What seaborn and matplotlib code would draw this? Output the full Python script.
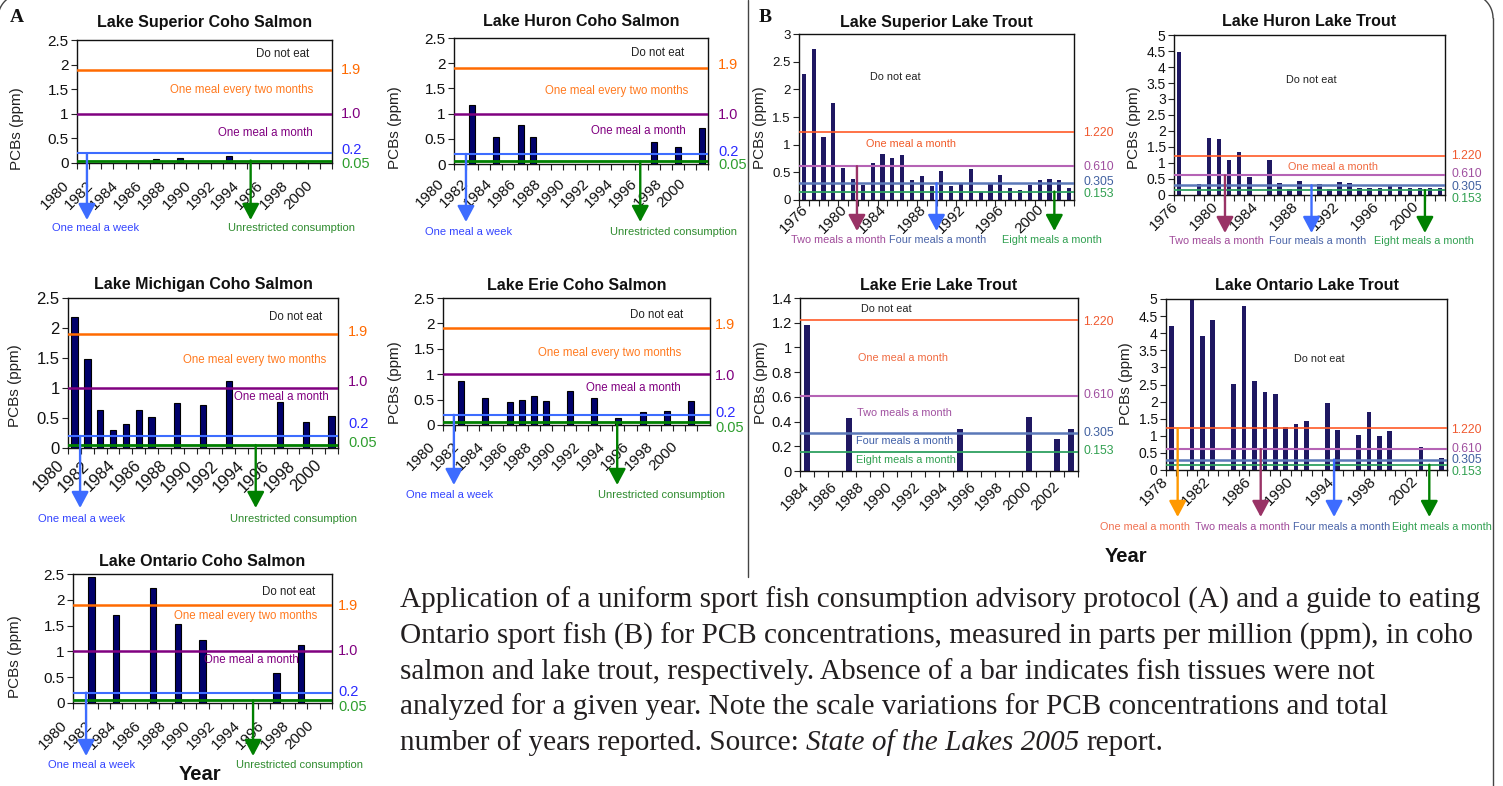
import matplotlib
matplotlib.use("Agg")
import matplotlib.pyplot as plt
import matplotlib.transforms as mtransforms
from matplotlib.lines import Line2D
import numpy as np
import pandas as pd
import seaborn as sns

# ---------------- data ----------------
coho_years = list(range(1980, 2001))
coho_label_years = list(range(1980, 2001, 2))
coho_limits = [1.9, 1.0, 0.2, 0.05]
coho_limit_labels = ["1.9", "1.0", "0.2", "0.05"]
coho_zones = ["Do not eat", "One meal every two months", "One meal a month"]
coho_arrow_texts = ["One meal a week", "Unrestricted consumption"]
coho_yticks = [0, 0.5, 1, 1.5, 2, 2.5]

superior_coho_years = [1986, 1988, 1992, 1998]
superior_coho_pcb = [0.08, 0.10, 0.14, 0.03]
huron_coho_years = [1981, 1983, 1985, 1986, 1996, 1998, 2000]
huron_coho_pcb = [1.17, 0.53, 0.78, 0.53, 0.43, 0.34, 0.72]
michigan_coho_years = [1980, 1981, 1982, 1983, 1984, 1985, 1986, 1988, 1990, 1992, 1996, 1998, 2000]
michigan_coho_pcb = [2.18, 1.49, 0.63, 0.30, 0.40, 0.63, 0.52, 0.75, 0.72, 1.12, 0.77, 0.44, 0.54]
erie_coho_years = [1981, 1983, 1985, 1986, 1987, 1988, 1990, 1992, 1994, 1996, 1998, 2000]
erie_coho_pcb = [0.86, 0.53, 0.46, 0.49, 0.58, 0.47, 0.66, 0.53, 0.14, 0.25, 0.28, 0.47]
ontario_coho_years = [1981, 1983, 1986, 1988, 1990, 1996, 1998]
ontario_coho_pcb = [2.45, 1.71, 2.23, 1.53, 1.22, 0.58, 1.12]

trout_limits = [1.220, 0.610, 0.305, 0.153]
trout_limit_labels = ["1.220", "0.610", "0.305", "0.153"]
trout_advice = ["One meal a month", "Two meals a month", "Four meals a month", "Eight meals a month"]

superior_trout_axis_years = list(range(1976, 2004))
superior_trout_label_years = list(range(1976, 2001, 4))
superior_trout_years = list(range(1976, 2004))
superior_trout_pcb = [2.28, 2.73, 1.13, 1.75, 0.58, 0.38, 0.27, 0.67, 0.83, 0.76, 0.81, 0.36, 0.43, 0.25,
                      0.53, 0.25, 0.31, 0.56, 0.15, 0.31, 0.45, 0.22, 0.18, 0.27, 0.36, 0.38, 0.36, 0.22]
superior_trout_yticks = [0, 0.5, 1, 1.5, 2, 2.5, 3]

huron_trout_axis_years = list(range(1976, 2003))
huron_trout_label_years = list(range(1976, 2001, 4))
huron_trout_years = [1976, 1978, 1979, 1980, 1981, 1982, 1983, 1985, 1986, 1987, 1988, 1990, 1991,
                     1992, 1993, 1994, 1995, 1996, 1997, 1998, 1999, 2000, 2001, 2002]
huron_trout_pcb = [4.48, 0.34, 1.79, 1.75, 1.09, 1.34, 0.55, 1.09, 0.375, 0.19, 0.44, 0.34, 0.19,
                   0.41, 0.375, 0.23, 0.23, 0.23, 0.31, 0.25, 0.23, 0.23, 0.22, 0.23]
huron_trout_yticks = [0, 0.5, 1, 1.5, 2, 2.5, 3, 3.5, 4, 4.5, 5]

erie_trout_axis_years = list(range(1984, 2004))
erie_trout_label_years = list(range(1984, 2003, 2))
erie_trout_years = [1984, 1987, 1995, 2000, 2002, 2003]
erie_trout_pcb = [1.18, 0.43, 0.34, 0.44, 0.26, 0.34]
erie_trout_yticks = [0, 0.2, 0.4, 0.6, 0.8, 1, 1.2, 1.4]

ontario_trout_axis_years = list(range(1978, 2005))
ontario_trout_label_years = list(range(1978, 2003, 4))
ontario_trout_years = [1978, 1980, 1981, 1982, 1984, 1985, 1986, 1987, 1988, 1989, 1990, 1991,
                       1993, 1994, 1996, 1997, 1998, 1999, 2002, 2004]
ontario_trout_pcb = [4.22, 4.96, 3.93, 4.39, 2.52, 4.80, 2.61, 2.28, 2.23, 1.27, 1.35, 1.44,
                     1.95, 1.17, 1.03, 1.70, 1.00, 1.14, 0.66, 0.34]
ontario_trout_yticks = [0, 0.5, 1, 1.5, 2, 2.5, 3, 3.5, 4, 4.5, 5]

caption_lines = [
    "Application of a uniform sport fish consumption advisory protocol (A) and a guide to eating",
    "Ontario sport fish (B) for PCB concentrations, measured in parts per million (ppm), in coho",
    "salmon and lake trout, respectively. Absence of a bar indicates fish tissues were not",
    "analyzed for a given year. Note the scale variations for PCB concentrations and total",
]
caption_last = ["number of years reported. Source:", "State of the Lakes 2005", "report."]

# ---------------- style ----------------
sns.set_theme(style="white")
plt.rcParams["font.family"] = ["Liberation Sans", "DejaVu Sans"]

W, H = 1503, 786
fig = plt.figure(figsize=(W / 100, H / 100), dpi=100)
fig.patch.set_facecolor("white")

COHO_BAR = "#00006b"
TROUT_BAR = "#1f1862"
coho_line_colors = ["#ff6a00", "#800080", "#3d6cff", "#008000"]
coho_label_colors = ["#ff6a00", "#800080", "#2a2aff", "#2e9e2e"]
coho_zone_colors = ["#222222", "#ff7a20", "#800080"]
coho_arrow_colors = ["#3d6cff", "#008000"]
coho_arrow_text_colors = ["#3344ff", "#2e8b2e"]
trout_line_colors = ["#ff5a28", "#b563b5", "#5a78b8", "#2ea060"]
trout_label_colors = ["#f05a30", "#a050a0", "#4060a0", "#30a050"]
trout_arrow_colors = ["#ff9900", "#993366", "#3d6cff", "#008000"]
trout_arrow_text_colors = ["#f07050", "#a04a9a", "#4a64a8", "#30a050"]


def ftext(x, y, s, **kw):
    kw.setdefault("va", "center")
    return fig.text(x / W, 1 - y / H, s, **kw)


def fline(xs, ys, **kw):
    fig.add_artist(Line2D([x / W for x in xs], [1 - y / H for y in ys],
                          transform=fig.transFigure, **kw))


def panel(rect, order, years, vals, ylim, yticks, bar_color, bar_width, edge, edge_lw,
          ytick_size, xright=None):
    l, r, t, b = rect
    ax = fig.add_axes([l / W, 1 - b / H, (r - l) / W, (b - t) / H])
    df = pd.DataFrame({"Year": years, "PCB": vals})
    sns.barplot(data=df, x="Year", y="PCB", order=order, color=bar_color, width=bar_width,
                saturation=1, errorbar=None, edgecolor=edge, linewidth=edge_lw, ax=ax, zorder=2)
    n = len(order)
    ax.set_xlim(-0.5, xright if xright is not None else n - 0.5)
    ax.set_ylim(*ylim)
    ax.set_xlabel("")
    ax.set_ylabel("")
    ax.set_xticks([])
    ax.set_xticks(np.arange(-0.5, n), minor=True)
    ax.tick_params(axis="x", which="minor", length=4, width=0.8, direction="out", color="#222",
                   bottom=True)
    ax.set_yticks(yticks)
    ax.set_yticklabels([f"{v:g}" for v in yticks], fontsize=ytick_size, color="#111")
    ax.tick_params(axis="y", length=4, width=0.8, direction="out", pad=2, color="#222", left=True)
    for sp in ax.spines.values():
        sp.set_color("#111")
        sp.set_linewidth(1.0)
    ax.set_facecolor("white")
    return ax


def xlabels(ax, rect, order, label_years, shift, pad_px, size):
    l, r, t, b = rect
    trans = mtransforms.blended_transform_factory(ax.transData, ax.transAxes)
    yf = -pad_px / (b - t)
    for yr in label_years:
        ax.text(order.index(yr) + shift, yf, str(yr), transform=trans, rotation=45,
                ha="right", va="center", rotation_mode="anchor", fontsize=size,
                color="#111", clip_on=False)


def y_of_px(rect, ylim, py):
    l, r, t, b = rect
    return ylim[0] + (b - py) / (b - t) * (ylim[1] - ylim[0])


def arrow(ax, rect, ylim, x, y_start, tip_px, color, lw=1.7):
    ax.annotate("", xy=(x, y_of_px(rect, ylim, tip_px)), xytext=(x, y_start),
                xycoords="data", textcoords="data", annotation_clip=False,
                arrowprops=dict(arrowstyle="-|>,head_length=0.75,head_width=0.4",
                                mutation_scale=13, lw=lw, color=color,
                                shrinkA=0, shrinkB=0), zorder=5)


# ---------------- coho salmon panels (A) ----------------
coho_panels = [
    dict(title="Lake Superior Coho Salmon", rect=(77, 332, 40, 163), years=superior_coho_years,
         vals=superior_coho_pcb, title_y=22, shift=-1.3, pad=20, ylab=(24, 129),
         arrows=[(0.32, 220, 96, 228), (13.8, 220, 291, 228)],
         zones=[(283, 54), (242, 90), (265, 133)], rl=341, rys=[70, 114, 150, 164],
         tick=11, xright=None),
    dict(title="Lake Huron Coho Salmon", rect=(454, 708, 38, 164), years=huron_coho_years,
         vals=huron_coho_pcb, title_y=22, shift=-1.5, pad=17, ylab=(402, 128),
         arrows=[(0.49, 222, 469, 232), (14.9, 222, 674, 232)],
         zones=[(658, 53), (617, 91), (638, 131)], rl=718, rys=[65, 115, 152, 165],
         tick=11, xright=None),
    dict(title="Lake Michigan Coho Salmon", rect=(68, 338, 298, 448), years=michigan_coho_years,
         vals=michigan_coho_pcb, title_y=285, shift=-1.0, pad=15, ylab=(22, 386),
         arrows=[(0.44, 508, 82, 519), (14.1, 508, 293, 519)],
         zones=[(296, 317), (255, 360), (281, 397)], rl=348, rys=[332, 382, 424, 443],
         tick=12, xright=None),
    dict(title="Lake Erie Coho Salmon", rect=(443, 710, 298, 425), years=erie_coho_years,
         vals=erie_coho_pcb, title_y=285, shift=-1.3, pad=19, ylab=(402, 383),
         arrows=[(0.4, 485, 450, 495), (13.9, 485, 661, 495)],
         zones=[(657, 315), (610, 353), (633, 388)], rl=715, rys=[325, 376, 413, 428],
         tick=11, xright=21.57),
    dict(title="Lake Ontario Coho Salmon", rect=(73, 332, 574, 703), years=ontario_coho_years,
         vals=ontario_coho_pcb, title_y=562, shift=-1.15, pad=20, ylab=(22, 657),
         arrows=[(0.56, 756, 92, 765), (14.1, 756, 299, 765)],
         zones=[(289, 592), (246, 616), (251, 660)], rl=338, rys=[606, 651, 692, 707],
         tick=11, xright=None),
]

for p in coho_panels:
    rect = p["rect"]
    ylim = (0, 2.5)
    ax = panel(rect, coho_years, p["years"], p["vals"], ylim, coho_yticks, COHO_BAR, 0.5,
               "#000000", 0.8, p["tick"], p["xright"])
    for v, c, lw in zip(coho_limits, coho_line_colors, [1.8, 1.8, 1.5, 2.0]):
        ax.axhline(v, color=c, lw=lw, zorder=3)
    xlabels(ax, rect, coho_years, coho_label_years, p["shift"], p["pad"], p["tick"])
    l, r, t, b = rect
    ftext((l + r) / 2, p["title_y"], p["title"], ha="center", fontsize=11.5,
          fontweight="bold", color="#111")
    ftext(p["ylab"][0], p["ylab"][1], "PCBs (ppm)", rotation=90, ha="right",
          fontsize=11, color="#222")
    for (ax_x, tip, lx, ly), thr, c, tc, s in zip(p["arrows"], [coho_limits[2], coho_limits[3]],
                                                 coho_arrow_colors, coho_arrow_text_colors,
                                                 coho_arrow_texts):
        arrow(ax, rect, ylim, ax_x, thr, tip, c)
        ftext(lx, ly, s, ha="center", fontsize=8, color=tc)
    for (zx, zy), s, c in zip(p["zones"], coho_zones, coho_zone_colors):
        ftext(zx, zy, s, ha="center", fontsize=8.3, color=c)
    for ry, s, c in zip(p["rys"], coho_limit_labels, coho_label_colors):
        ftext(p["rl"], ry, s, ha="left", fontsize=10.5, color=c)

# ---------------- lake trout panels (B) ----------------
trout_panels = [
    dict(title="Lake Superior Lake Trout", rect=(799, 1074, 34, 200),
         order=superior_trout_axis_years, labels=superior_trout_label_years,
         years=superior_trout_years, vals=superior_trout_pcb, ylim=(0, 3),
         yticks=superior_trout_yticks, ytick=9.5, title_y=22, shift=0.2, pad=7,
         ylab=(767, 128), width=0.42,
         arrows=[(1, 5.4, 231, 838, 240), (2, 13.5, 231, 938, 240), (3, 25.5, 231, 1052, 240)],
         zones=[("Do not eat", "#222222", 895, 77), (trout_advice[0], "#f05a28", 911, 144)],
         rl=1083, rys=[133, 167, 182, 194]),
    dict(title="Lake Huron Lake Trout", rect=(1174, 1445, 35, 195),
         order=huron_trout_axis_years, labels=huron_trout_label_years,
         years=huron_trout_years, vals=huron_trout_pcb, ylim=(0, 5),
         yticks=huron_trout_yticks, ytick=10, title_y=22, shift=-0.3, pad=9,
         ylab=(1141, 128), width=0.45,
         arrows=[(1, 4.58, 233, 1216, 241), (2, 13.2, 233, 1318, 241), (3, 24.5, 233, 1424, 241)],
         zones=[("Do not eat", "#222222", 1311, 80), (trout_advice[0], "#f06a40", 1333, 167)],
         rl=1451, rys=[156, 174, 187, 199]),
    dict(title="Lake Erie Lake Trout", rect=(800, 1078, 298, 471),
         order=erie_trout_axis_years, labels=erie_trout_label_years,
         years=erie_trout_years, vals=erie_trout_pcb, ylim=(0, 1.4),
         yticks=erie_trout_yticks, ytick=10.5, title_y=285, shift=0.0, pad=13,
         ylab=(768, 383), width=0.45,
         arrows=[],
         zones=[("Do not eat", "#222222", 886, 309), (trout_advice[0], "#f06a40", 903, 358),
                (trout_advice[1], "#a050a0", 904, 413), (trout_advice[2], "#4060a8", 905, 441),
                (trout_advice[3], "#30a050", 906, 460)],
         rl=1083, rys=[322, 395, 433, 451]),
    dict(title="Lake Ontario Lake Trout", rect=(1166, 1447, 299, 470),
         order=ontario_trout_axis_years, labels=ontario_trout_label_years,
         years=ontario_trout_years, vals=ontario_trout_pcb, ylim=(0, 5),
         yticks=ontario_trout_yticks, ytick=10, title_y=285, shift=-0.5, pad=9,
         ylab=(1133, 384), width=0.45,
         arrows=[(0, 0.62, 517, 1145, 527), (1, 8.6, 517, 1242, 527),
                 (2, 15.65, 517, 1342, 527), (3, 24.8, 517, 1442, 527)],
         zones=[("Do not eat", "#222222", 1319, 359)],
         rl=1451, rys=[430, 449, 460, 472]),
]

for p in trout_panels:
    rect = p["rect"]
    ylim = p["ylim"]
    ax = panel(rect, p["order"], p["years"], p["vals"], ylim, p["yticks"], TROUT_BAR, p["width"],
               TROUT_BAR, 0.0, p["ytick"])
    for v, c, lw in zip(trout_limits, trout_line_colors, [1.2, 1.5, 1.8, 1.3]):
        ax.axhline(v, color=c, lw=lw, zorder=3)
    xlabels(ax, rect, p["order"], p["labels"], p["shift"], p["pad"], 11)
    l, r, t, b = rect
    ftext((l + r) / 2, p["title_y"], p["title"], ha="center", fontsize=11.5,
          fontweight="bold", color="#111")
    ftext(p["ylab"][0], p["ylab"][1], "PCBs (ppm)", rotation=90, ha="right",
          fontsize=11, color="#222")
    for k, ax_x, tip, lx, ly in p["arrows"]:
        arrow(ax, rect, ylim, ax_x, trout_limits[k], tip, trout_arrow_colors[k])
        ftext(lx, ly, trout_advice[k], ha="center", fontsize=7.8, color=trout_arrow_text_colors[k])
    for s, c, zx, zy in p["zones"]:
        ftext(zx, zy, s, ha="center", fontsize=7.8, color=c)
    for ry, s, c in zip(p["rys"], trout_limit_labels, trout_label_colors):
        ftext(p["rl"], ry, s, ha="left", fontsize=8.8, color=c)

# ---------------- decorations ----------------
serif = ["Liberation Serif", "DejaVu Serif"]
ftext(17, 17, "A", ha="center", fontsize=14, fontweight="bold", family=serif, color="#111")
ftext(765, 18, "B", ha="center", fontsize=14, fontweight="bold", family=serif, color="#111")
ftext(200, 775, "Year", ha="center", fontsize=14.5, fontweight="bold", color="#111")
ftext(1126, 557, "Year", ha="center", fontsize=14.5, fontweight="bold", color="#111")

# separator between A and B
fline([748, 748], [0, 577], color="#444444", lw=1.0)
# rounded frame: only its corners and right edge fall inside the picture
R = 24
th = np.linspace(np.pi, 1.5 * np.pi, 30)
fline(list(22 + R * np.cos(th)), list(18 + R * np.sin(th)), color="#444444", lw=1.0)
th = np.linspace(1.5 * np.pi, 2 * np.pi, 30)
fline(list(1469 + R * np.cos(th)), list(18 + R * np.sin(th)), color="#444444", lw=1.0)
fline([1493, 1493], [18, 790], color="#444444", lw=1.0)

# ---------------- caption ----------------
renderer = fig.canvas.get_renderer()
cap_x = 400
cap_base = [608, 643.5, 679, 714.5, 750]
base_size = 20
probe = fig.text(0, 0, caption_lines[0], fontsize=base_size, family=serif)
wpx = probe.get_window_extent(renderer).width
probe.remove()
cap_size = base_size * 1080 / wpx
for s, yb in zip(caption_lines, cap_base[:4]):
    fig.text(cap_x / W, 1 - yb / H, s, fontsize=cap_size, family=serif, va="baseline",
             color="#231f20")
sp_a = fig.text(0, 0, "x x", fontsize=cap_size, family=serif)
sp_b = fig.text(0, 0, "xx", fontsize=cap_size, family=serif)
space = sp_a.get_window_extent(renderer).width - sp_b.get_window_extent(renderer).width
sp_a.remove()
sp_b.remove()
xcur = cap_x
for s, st in zip(caption_last, ["normal", "italic", "normal"]):
    tt = fig.text(xcur / W, 1 - cap_base[4] / H, s, fontsize=cap_size, family=serif,
                  style=st, va="baseline", color="#231f20")
    xcur += tt.get_window_extent(renderer).width + space

fig.savefig("out.png", dpi=100, facecolor="white")
